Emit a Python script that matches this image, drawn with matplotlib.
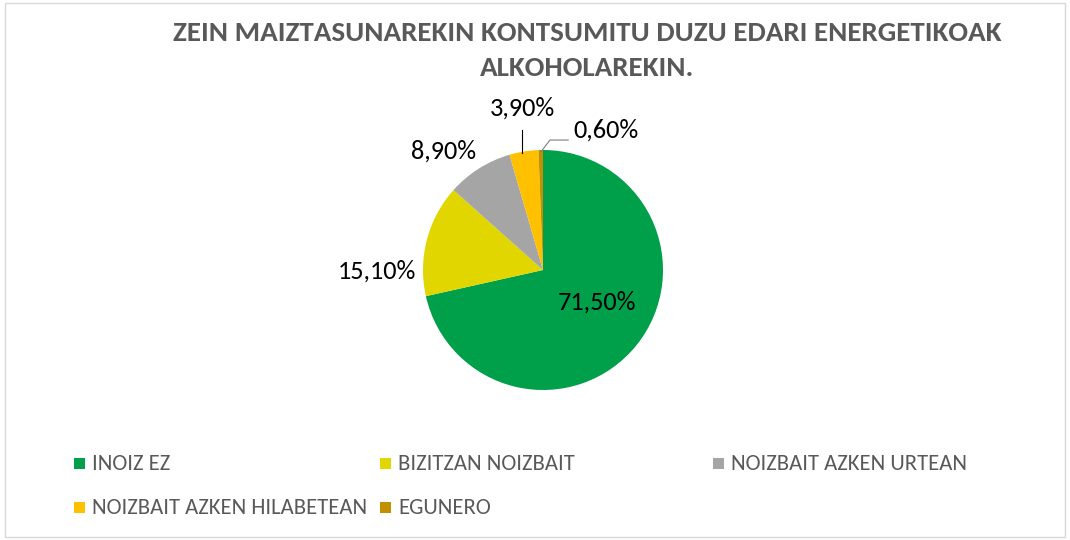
import matplotlib
matplotlib.use("Agg")
import matplotlib.pyplot as plt
from matplotlib.patches import Rectangle

categories = ["INOIZ EZ", "BIZITZAN NOIZBAIT", "NOIZBAIT AZKEN URTEAN",
              "NOIZBAIT AZKEN HILABETEAN", "EGUNERO"]
values = [71.5, 15.1, 8.9, 3.9, 0.6]
value_labels = ["71,50%", "15,10%", "8,90%", "3,90%", "0,60%"]
colors = ["#00A04A", "#E2D600", "#A5A5A5", "#FFC000", "#C09000"]
title = "ZEIN MAIZTASUNAREKIN KONTSUMITU DUZU EDARI ENERGETIKOAK\nALKOHOLAREKIN."

FONT = ["Carlito", "DejaVu Sans"]

fig = plt.figure(figsize=(10.7, 5.4), dpi=100)
fig.patches.append(Rectangle((0.005, 0.005), 0.99, 0.99, transform=fig.transFigure,
                             fill=False, edgecolor="#D9D9D9", linewidth=1))

ax = fig.add_axes([423/1070, 150/540, 240/1070, 240/540])
ax.pie(values, colors=colors, startangle=90, counterclock=False,
       wedgeprops=dict(linewidth=0))
ax.set_xlim(-1, 1)
ax.set_ylim(-1, 1)
ax.set_aspect("equal")
ax.axis("off")

label_pos = [(0.45, -0.27), (-1.38, -0.01), (-0.83, 0.99), (-0.175, 1.35), (0.525, 1.17)]
for (x, y), t in zip(label_pos, value_labels):
    ax.text(x, y, t, ha="center", va="center", fontsize=19, family=FONT,
            color="#000000", clip_on=False)
# leader lines
ax.plot([-0.175, -0.175], [0.975, 1.17], color="#000000", lw=0.8, clip_on=False)
ax.plot([-0.017, 0.058, 0.21], [0.985, 1.083, 1.083], color="#7F7F7F", lw=0.8, clip_on=False)

fig.text(587/1070, 1 - 50.5/540, title, ha="center", va="center", fontsize=21,
         fontweight="bold", family=FONT, color="#595959", linespacing=1.55)

legend_pos = [(79.5, 463.5), (385, 463.5), (718, 463.5), (79.5, 507.5), (385, 507.5)]
for (px, py), c, name in zip(legend_pos, colors, categories):
    fig.patches.append(Rectangle(((px - 5.5) / 1070, 1 - (py + 5.5) / 540), 11 / 1070, 11 / 540,
                                 transform=fig.transFigure, facecolor=c, edgecolor="none"))
    fig.text((px + 13) / 1070, 1 - py / 540, name, ha="left", va="center", fontsize=16.3,
             family=FONT, color="#595959")

fig.savefig("out.png", dpi=100)
